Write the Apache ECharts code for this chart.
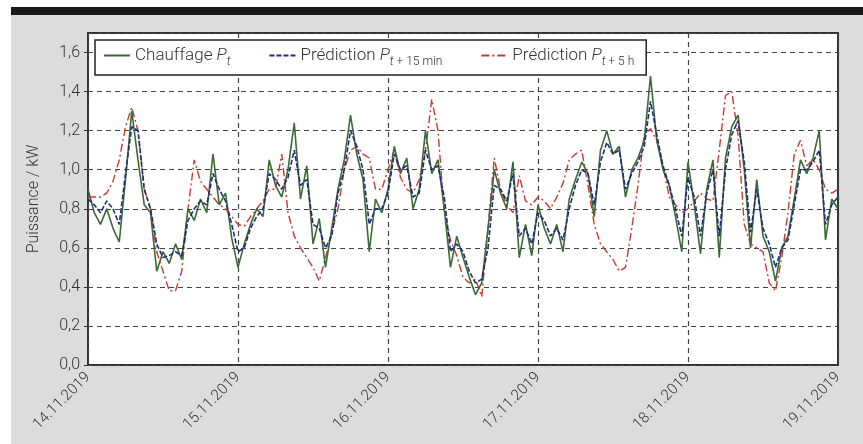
<!DOCTYPE html>
<html><head><meta charset="utf-8">
<script src="https://cdn.jsdelivr.net/npm/echarts@6/dist/echarts.min.js"></script>
<style>
html,body{margin:0;padding:0;background:#fff;}
#bg{position:absolute;left:11px;top:15px;width:852px;height:429px;background:#dcdcdc;}
#bar{position:absolute;left:11px;top:7px;width:852px;height:8px;background:#1a1a1a;}
#c{position:absolute;left:0;top:0;width:863px;height:444px;}
</style></head>
<body><div id="bg"></div><div id="bar"></div><div id="c"></div>
<script>
// x tick labels (one per day, every 24 h); series are hourly values from 14.11.2019 00:00
const dayLabels = ['14.11.2019','15.11.2019','16.11.2019','17.11.2019','18.11.2019','19.11.2019'];
const chauffage = [0.90,0.78,0.72,0.80,0.70,0.63,0.95,1.30,1.05,0.82,0.78,0.48,0.58,0.52,0.62,0.54,0.80,0.74,0.85,0.78,
1.08,0.82,0.88,0.65,0.50,0.62,0.72,0.80,0.76,1.05,0.92,0.86,1.00,1.24,0.85,1.02,0.62,0.75,0.50,0.70,
0.90,1.05,1.28,1.08,0.95,0.58,0.85,0.78,0.90,1.12,0.98,1.06,0.80,0.90,1.20,0.98,1.05,0.80,0.50,0.66,
0.55,0.45,0.36,0.42,0.70,1.00,0.88,0.80,1.04,0.55,0.72,0.56,0.82,0.70,0.62,0.72,0.58,0.85,0.95,1.04,
0.98,0.76,1.10,1.20,1.08,1.12,0.86,1.00,1.06,1.15,1.48,1.15,1.00,0.92,0.76,0.58,1.04,0.82,0.57,0.90,
1.05,0.55,1.06,1.22,1.28,1.00,0.60,0.95,0.66,0.58,0.43,0.60,0.66,0.85,1.05,0.98,1.06,1.20,0.64,0.85,0.80];
const pred15 = [0.85,0.82,0.78,0.84,0.80,0.72,0.98,1.22,1.20,0.90,0.80,0.62,0.55,0.56,0.58,0.56,0.74,0.80,0.84,0.82,
0.98,0.90,0.84,0.72,0.58,0.60,0.70,0.76,0.80,0.98,0.95,0.90,0.96,1.10,0.92,0.95,0.72,0.70,0.60,0.66,
0.88,1.00,1.20,1.12,1.00,0.72,0.80,0.80,0.88,1.08,1.00,1.02,0.86,0.88,1.10,1.00,1.02,0.86,0.58,0.62,
0.58,0.48,0.42,0.44,0.60,0.92,0.90,0.84,0.98,0.66,0.70,0.62,0.78,0.74,0.66,0.70,0.64,0.80,0.92,1.00,
0.98,0.82,1.04,1.14,1.08,1.10,0.90,0.98,1.04,1.12,1.35,1.18,1.02,0.92,0.80,0.66,0.96,0.86,0.66,0.88,
1.00,0.66,1.00,1.18,1.25,1.04,0.68,0.90,0.70,0.62,0.50,0.60,0.64,0.82,1.00,1.00,1.04,1.10,0.72,0.82,0.86];
const pred5h = [0.86,0.86,0.86,0.88,0.94,1.05,1.22,1.32,1.20,0.90,0.80,0.58,0.48,0.38,0.38,0.48,0.80,1.05,0.94,0.90,
0.86,0.82,0.80,0.76,0.72,0.71,0.76,0.80,0.84,0.90,0.90,1.08,0.78,0.66,0.60,0.55,0.50,0.43,0.55,0.68,
0.80,1.00,1.10,1.12,1.08,1.06,0.90,0.90,1.00,1.10,0.96,0.90,0.88,0.95,1.10,1.36,1.20,0.78,0.64,0.56,
0.45,0.42,0.44,0.35,0.70,1.06,0.90,0.82,0.78,0.97,0.84,0.82,0.86,0.84,0.80,0.86,0.93,1.05,1.08,1.10,
0.92,0.72,0.62,0.58,0.54,0.48,0.50,0.70,0.92,1.18,1.21,1.15,1.02,0.86,0.82,0.78,0.80,0.84,0.88,0.85,
0.84,1.10,1.38,1.40,1.18,0.72,0.62,0.60,0.58,0.42,0.38,0.55,0.78,1.08,1.15,1.02,1.05,1.00,0.90,0.88,0.90];
const yTicks = [0,0.2,0.4,0.6,0.8,1.0,1.2,1.4,1.6];

const toXY = a => a.map((v,i)=>[i,v]);
const FONT = 'Roboto';
const chart = echarts.init(document.getElementById('c'));
chart.setOption({
  backgroundColor:'transparent',
  animation:false,
  grid:{left:88,right:25,top:33,bottom:79,show:true,backgroundColor:'#fff',borderColor:'#333',borderWidth:2},
  xAxis:{type:'value',min:0,max:(dayLabels.length-1)*24,interval:24,
    axisLine:{show:false},axisTick:{show:false},
    splitLine:{show:true,lineStyle:{color:'#444',type:[5,4],width:1.2}},
    axisLabel:{rotate:45,margin:10,color:'#333',fontFamily:FONT,fontWeight:300,fontSize:15,
      formatter:v=>dayLabels[Math.round(v/24)]||''}},
  yAxis:{type:'value',min:0,max:1.7,interval:0.2,name:'Puissance / kW',nameLocation:'middle',nameGap:46,
    nameTextStyle:{color:'#333',fontFamily:FONT,fontWeight:300,fontSize:16},
    axisLine:{show:false},axisTick:{show:true,length:4,lineStyle:{color:'#333'}},
    splitLine:{show:true,lineStyle:{color:'#444',type:[5,4],width:1.2}},
    axisLabel:{showMaxLabel:false,color:'#333',fontFamily:FONT,fontWeight:300,fontSize:16,margin:8,
      formatter:v=>yTicks.some(t=>Math.abs(t-v)<1e-6)?v.toFixed(1).replace('.',','):''}},
  legend:{left:95,top:40,itemWidth:26,itemHeight:10,itemGap:38,padding:[7,12,7,8],
    borderColor:'#222',borderWidth:1.5,backgroundColor:'#fff',
    itemStyle:{opacity:0},
    textStyle:{color:'#333',fontFamily:FONT,fontSize:17,
      rich:{n:{fontSize:17,fontFamily:FONT,fontWeight:300,color:'#333'},i:{fontSize:17,fontStyle:'italic',fontWeight:300,fontFamily:FONT,color:'#333'},
        s:{fontSize:12,fontFamily:FONT,fontWeight:300,color:'#333',padding:[13,0,0,0]},
        si:{fontSize:12,fontStyle:'italic',fontWeight:300,fontFamily:FONT,color:'#333',padding:[13,0,0,0]}}},
    formatter:n=>{
      if(n==='Chauffage') return '{n|Chauffage }{i|P}{si|t}';
      if(n==='P15') return '{n|Prédiction }{i|P}{si|t}{s| + 15 min}';
      return '{n|Prédiction }{i|P}{si|t}{s| + 5 h}';
    },
    data:['Chauffage','P15','P5h']},
  series:[
    {name:'Chauffage',type:'line',data:toXY(chauffage),symbol:'none',z:3,lineStyle:{color:'#3b6a36',width:1.6},itemStyle:{color:'#3b6a36'}},
    {name:'P15',type:'line',data:toXY(pred15),symbol:'none',z:4,lineStyle:{color:'#232b7c',width:1.6,type:[5,2]},itemStyle:{color:'#232b7c'}},
    {name:'P5h',type:'line',data:toXY(pred5h),symbol:'none',z:2,lineStyle:{color:'#c83a2e',width:1.4,type:[8,3,2,3]},itemStyle:{color:'#c83a2e'}}
  ]
});
</script></body></html>
